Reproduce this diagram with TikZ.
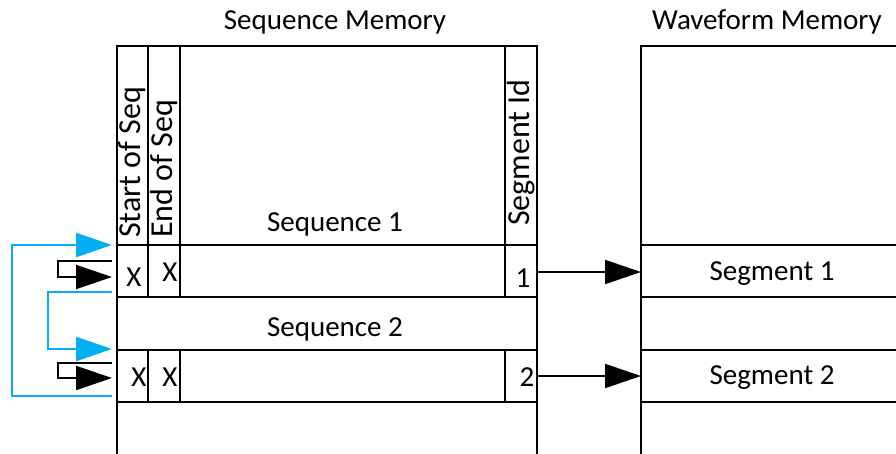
\documentclass[tikz,border=0pt]{standalone}
\usepackage{fontspec}
\setmainfont{Carlito}
\usetikzlibrary{arrows.meta}
\definecolor{loopblue}{RGB}{0,176,240}
\begin{document}
\begin{tikzpicture}[x=1pt,y=-1pt,
  frame/.style={line width=2.6pt,line cap=rect},
  lbl/.style={font=\fontsize{29}{34}\selectfont,inner sep=0pt,anchor=base},
  vlbl/.style={font=\fontsize{32}{36}\selectfont,inner sep=0pt,rotate=90,anchor=base west},
  blk/.style={line width=2pt,-{Triangle[length=36pt,width=24pt]}},
  blu/.style={line width=2.4pt,draw=loopblue,-{Triangle[length=36pt,width=24pt,fill=loopblue]}}]
\useasboundingbox (0,0) rectangle (896,453);
% titles
\node[lbl] (tseq) at (335,29) {Sequence Memory};
\node[lbl] (twav) at (767,29) {Waveform Memory};
% sequence memory frame
\draw[frame] (117,453) -- (117,46) -- (537,46) -- (537,453);
\foreach \yy in {245,297,350,402} \draw[frame] (117,\yy) -- (537,\yy);
\foreach \xx in {148,180,505} {
  \draw[frame] (\xx,46) -- (\xx,297);
  \draw[frame] (\xx,350) -- (\xx,402);
}
% waveform memory frame
\draw[frame] (641,453) -- (641,46) -- (897,46);
\foreach \yy in {245,297,350,402} \draw[frame] (641,\yy) -- (897,\yy);
% column headers
\node[vlbl] (hstart) at (140,238) {Start of Seq};
\node[vlbl] (hend) at (172,238) {End of Seq};
\node[vlbl] (hid) at (529,226) {Segment Id};
% row texts
\node[lbl] (sq1) at (335,231) {Sequence 1};
\node[lbl] (sq2) at (335,336) {Sequence 2};
\node[lbl] (x11) at (134,286) {X};
\node[lbl] (x12) at (170,281) {X};
\node[lbl] (x21) at (139,386) {X};
\node[lbl] (x22) at (170,386) {X};
\node[lbl] (n1) at (523,287) {1};
\node[lbl] (n2) at (527,386) {2};
\node[lbl] (sg1) at (772,280) {Segment 1};
\node[lbl] (sg2) at (772,384) {Segment 2};
% connector coordinates
\coordinate (id1) at (537,272);
\coordinate (id2) at (537,376);
\coordinate (w1) at (641,272);
\coordinate (w2) at (641,376);
\coordinate (r1top) at (112,245);
\coordinate (r1bot) at (112,292);
\coordinate (r2top) at (112,349);
\coordinate (r2bot) at (112,396);
\coordinate (s1a) at (112,261);
\coordinate (s1b) at (112,277);
\coordinate (s2a) at (112,363);
\coordinate (s2b) at (112,378);
% arrows
\draw[blk] (id1) -- (w1);
\draw[blk] (id2) -- (w2);
\draw[blu] (r2bot) -- (12,396) -- (12,245) -- (r1top);
\draw[blu] (r1bot) -- (48,292) -- (48,349) -- (r2top);
\draw[blk] (s1a) -- (58,261) -- (58,277) -- (s1b);
\draw[blk] (s2a) -- (58,363) -- (58,378) -- (s2b);
\end{tikzpicture}
\end{document}
